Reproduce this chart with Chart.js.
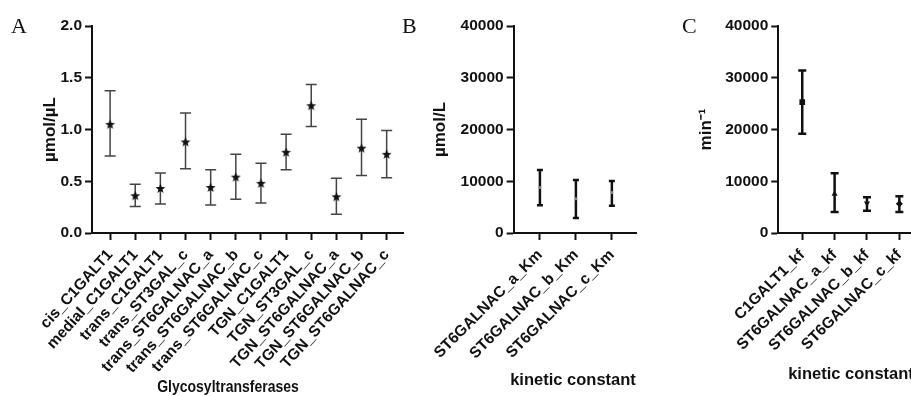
<!DOCTYPE html>
<html>
<head>
<meta charset="utf-8">
<script src="https://cdn.jsdelivr.net/npm/chart.js@4.4.0/dist/chart.umd.min.js"></script>
<style>
  html, body { margin: 0; padding: 0; background: #fff; overflow: hidden; }
  body { position: relative; width: 911px; height: 396px; }
  canvas { position: absolute; top: 0; }
  .letter { position: absolute; font-family: "Liberation Serif", "Times New Roman", serif; font-size: 22px; color: #111; line-height: 1; }
  .xtitle { position: absolute; font-family: "Liberation Sans", Arial, sans-serif; font-weight: bold; color: #111; white-space: nowrap; transform: translate(-50%, -50%); }
</style>
</head>
<body>
<canvas id="chartA" width="410" height="396" style="left:0px"></canvas>
<canvas id="chartB" width="240" height="396" style="left:410px"></canvas>
<canvas id="chartC" width="280" height="396" style="left:650px"></canvas>
<div class="letter" style="left:11px;top:15px">A</div>
<div class="letter" style="left:402px;top:15px">B</div>
<div class="letter" style="left:682px;top:15px">C</div>
<div class="xtitle" style="left:228px;top:386px;font-size:14px;transform:translate(-50%,-50%) scale(1,1.2)">Glycosyltransferases</div>
<div class="xtitle" style="left:573px;top:379px;font-size:16.5px">kinetic constant</div>
<div class="xtitle" style="left:851px;top:373px;font-size:16.5px">kinetic constant</div>
<script>
// panel A: concentrations
const aLabels = ['cis_C1GALT1', 'medial_C1GALT1', 'trans_C1GALT1', 'trans_ST3GAL_c',
  'trans_ST6GALNAC_a', 'trans_ST6GALNAC_b', 'trans_ST6GALNAC_c', 'TGN_C1GALT1',
  'TGN_ST3GAL_c', 'TGN_ST6GALNAC_a', 'TGN_ST6GALNAC_b', 'TGN_ST6GALNAC_c'];
const aMean = [1.05, 0.36, 0.43, 0.88, 0.44, 0.54, 0.48, 0.78, 1.23, 0.35, 0.82, 0.76];
const aHigh = [1.375, 0.47, 0.58, 1.16, 0.61, 0.76, 0.675, 0.955, 1.435, 0.53, 1.10, 0.99];
const aLow = [0.745, 0.255, 0.28, 0.62, 0.27, 0.325, 0.29, 0.61, 1.03, 0.18, 0.555, 0.535];

// panel B: Km
const bLabels = ['ST6GALNAC_a_Km', 'ST6GALNAC_b_Km', 'ST6GALNAC_c_Km'];
const bMean = [8770, 6600, 7830];
const bHigh = [12170, 10250, 10060];
const bLow = [5350, 2880, 5250];

// panel C: kf
const cLabels = ['C1GALT1_kf', 'ST6GALNAC_a_kf', 'ST6GALNAC_b_kf', 'ST6GALNAC_c_kf'];
const cMean = [25300, 7560, 5770, 5640];
const cHigh = [31400, 11540, 6920, 7120];
const cLow = [19200, 4040, 4290, 4040];

Chart.defaults.color = '#111';
Chart.defaults.font.family = '"Liberation Sans", Arial, sans-serif';

// filled star for panel A
const star = document.createElement('canvas');
star.width = 11; star.height = 11;
(function () {
  const c = star.getContext('2d');
  c.fillStyle = '#111';
  c.beginPath();
  for (let i = 0; i < 10; i++) {
    const r = i % 2 ? 2.2 : 5.2;
    const a = -Math.PI / 2 + i * Math.PI / 5;
    c.lineTo(5.5 + r * Math.cos(a), 5.8 + r * Math.sin(a));
  }
  c.closePath();
  c.fill();
})();

const errorBars = {
  id: 'errorBars',
  beforeDatasetsDraw(chart, args, opts) {
    const {ctx, scales: {x, y}} = chart;
    ctx.save();
    ctx.strokeStyle = opts.color;
    ctx.lineWidth = opts.width;
    opts.low.forEach((lo, i) => {
      const px = x.getPixelForValue(i);
      const yl = y.getPixelForValue(lo), yh = y.getPixelForValue(opts.high[i]);
      ctx.beginPath();
      ctx.moveTo(px, yl); ctx.lineTo(px, yh);
      ctx.moveTo(px - opts.cap, yl); ctx.lineTo(px + opts.cap, yl);
      ctx.moveTo(px - opts.cap, yh); ctx.lineTo(px + opts.cap, yh);
      ctx.stroke();
    });
    ctx.restore();
  }
};

function makeChart(id, labels, mean, low, high, o) {
  return new Chart(document.getElementById(id), {
    type: 'scatter',
    data: {
      datasets: [{
        data: mean.map((v, i) => ({x: i, y: v})),
        pointStyle: o.pointStyle,
        rotation: o.rotation || 0,
        pointRadius: o.radius,
        backgroundColor: o.pointColor,
        borderColor: o.pointColor,
        borderWidth: 0
      }]
    },
    options: {
      responsive: false,
      animation: false,
      devicePixelRatio: 1,
      layout: {padding: {top: 26, right: o.padRight, bottom: 0, left: 0}},
      plugins: {
        legend: {display: false},
        tooltip: {enabled: false},
        errorBars: {low: low, high: high, color: o.barColor, width: o.barWidth, cap: o.cap}
      },
      scales: {
        x: {
          type: 'linear',
          min: o.xMin, max: o.xMax,
          afterBuildTicks: s => { s.ticks = labels.map((_, i) => ({value: i})); },
          afterFit: s => { s.height = 396 - 233; },
          border: {display: true, color: '#111', width: 2},
          grid: {drawOnChartArea: false, drawTicks: true, tickLength: 7, tickColor: '#111', tickWidth: 2},
          ticks: {
            autoSkip: false, maxRotation: o.xRot, minRotation: o.xRot, padding: 6,
            font: {size: o.xFont, weight: 'bold'},
            callback: v => labels[v]
          }
        },
        y: {
          min: 0, max: o.yMax,
          afterFit: s => { s.width = o.yWidth; },
          border: {display: true, color: '#111', width: 2},
          grid: {drawOnChartArea: false, drawTicks: true, tickLength: 7, tickColor: '#111', tickWidth: 2},
          ticks: {stepSize: o.yStep, padding: 3, font: {size: 15.5, weight: 'bold'}, callback: o.yFmt},
          title: {display: true, text: o.yTitle, font: {size: 17, weight: 'bold'}, padding: {top: o.titlePad, bottom: 0}}
        }
      }
    },
    plugins: [errorBars]
  });
}

makeChart('chartA', aLabels, aMean, aLow, aHigh, {
  pointStyle: star, radius: 5, pointColor: '#111',
  barColor: '#444', barWidth: 1.5, cap: 5.5, xFont: 15.5, xRot: 48,
  xMin: -0.72, xMax: 11.65, padRight: 7, yWidth: 92,
  yMax: 2, yStep: 0.5, yFmt: v => v.toFixed(1), yTitle: 'µmol/µL', titlePad: 40
});

makeChart('chartB', bLabels, bMean, bLow, bHigh, {
  pointStyle: 'circle', radius: 1.5, pointColor: 'rgba(150,150,150,0.9)',
  barColor: '#111', barWidth: 2.5, cap: 3, xFont: 15.5, xRot: 45,
  xMin: -0.73, xMax: 2.69, padRight: 13.3, yWidth: 98.3,
  yMax: 40000, yStep: 10000, yFmt: v => v, yTitle: 'µmol/L', titlePad: 15
});

makeChart('chartC', cLabels, cMean, cLow, cHigh, {
  pointStyle: ['rect', 'triangle', 'triangle', 'rectRot'], rotation: [0, 0, 180, 0],
  radius: [4, 3.5, 3.5, 3.5], pointColor: '#111',
  barColor: '#111', barWidth: 2.5, cap: 4, xFont: 15.5, xRot: 45,
  xMin: -0.74, xMax: 3.74, padRight: 6.7, yWidth: 128.3,
  yMax: 40000, yStep: 10000, yFmt: v => v, yTitle: 'min⁻¹', titlePad: 46
});
</script>
</body>
</html>
